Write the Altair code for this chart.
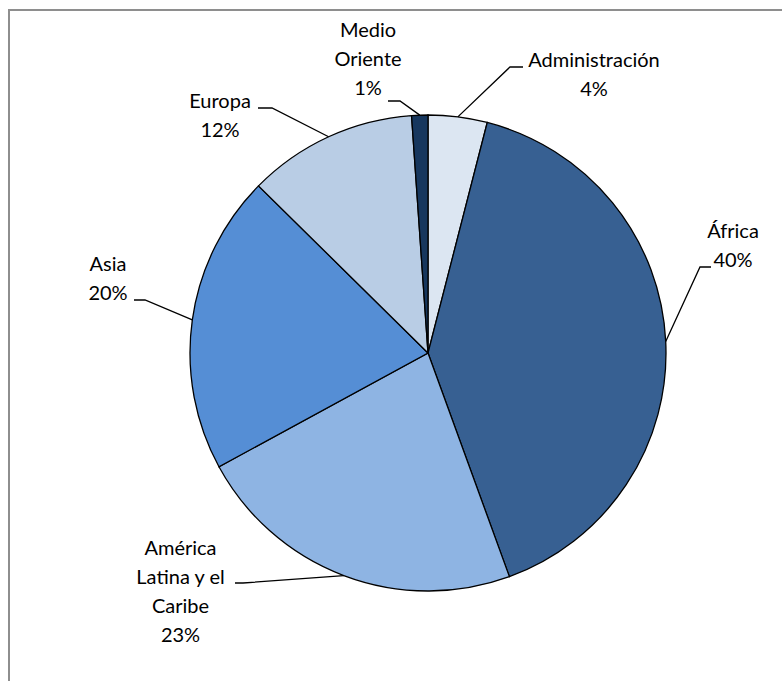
import math
import altair as alt
import pandas as pd

# ---- data ----
categories = ["Administración", "África", "América Latina y el Caribe", "Asia", "Europa", "Medio Oriente"]
values = [4.0, 40.4, 22.6, 20.3, 11.5, 1.1]
pct_labels = ["4%", "40%", "23%", "20%", "12%", "1%"]
label_text = ["Administración", "África", "América|Latina y el|Caribe", "Asia", "Europa", "Medio|Oriente"]
colors = ["#DCE6F2", "#376092", "#8EB4E3", "#558ED5", "#B9CDE5", "#17375E"]

# ---- layout (pixel positions of labels / leader elbows) ----
CX, CY, R = 428, 353, 238
label_x = [594, 733, 180.5, 108, 220, 368]
label_y = [67, 238, 555, 271, 108, 37]
elbow_x = [510, 700, 243, 145, 272, 400]
elbow_y = [67, 267, 583, 300, 108, 101]
end_x = [523, 711, 235, 134, 258, 388]

W, H = 782, 681
FONT = "Lato"

pie_df = pd.DataFrame({"cat": categories, "value": values, "idx": list(range(len(values)))})

# leader lines: start at slice mid-angle on pie edge
total = sum(values)
rows = []
cum = 0.0
for i, v in enumerate(values):
    mid = (cum + v / 2) / total * 2 * math.pi
    cum += v
    sx = CX + R * math.sin(mid)
    sy = CY - R * math.cos(mid)
    rows.append({"cat": categories[i], "o": 0, "px": sx, "py": sy})
    rows.append({"cat": categories[i], "o": 1, "px": elbow_x[i], "py": elbow_y[i]})
    rows.append({"cat": categories[i], "o": 2, "px": end_x[i], "py": elbow_y[i]})
lead_df = pd.DataFrame(rows)

lab_df = pd.DataFrame({
    "cat": categories,
    "label": [t + "|" + p for t, p in zip(label_text, pct_labels)],
    "lx": label_x,
    "ly": label_y,
})

pie = alt.Chart(pie_df).mark_arc(outerRadius=R, stroke="black", strokeWidth=1.3).encode(
    theta=alt.Theta("value:Q", stack=True),
    color=alt.Color("cat:N", scale=alt.Scale(domain=categories, range=colors), legend=None),
    order=alt.Order("idx:Q"),
    x=alt.value(CX),
    y=alt.value(CY),
)

leaders = alt.Chart(lead_df).mark_line(color="black", strokeWidth=1.3).encode(
    x=alt.X("px:Q", scale=None, axis=None),
    y=alt.Y("py:Q", scale=None, axis=None),
    detail="cat:N",
    order="o:Q",
)

labels = alt.Chart(lab_df).transform_calculate(
    lines="split(datum.label, '|')"
).mark_text(
    align="center", baseline="alphabetic", lineHeight=29, font=FONT, fontSize=20, color="black"
).encode(
    x=alt.X("lx:Q", scale=None, axis=None),
    y=alt.Y("ly:Q", scale=None, axis=None),
    text="lines:N",
)

frame_top = alt.Chart(pie_df).mark_rule(color="#8E8E8E", strokeWidth=2).encode(
    x=alt.value(8), x2=alt.value(W), y=alt.value(10)
)
frame_left = alt.Chart(pie_df).mark_rule(color="#8E8E8E", strokeWidth=2).encode(
    x=alt.value(9), y=alt.value(9), y2=alt.value(H)
)

chart = alt.layer(pie, leaders, labels, frame_top, frame_left).properties(
    width=W, height=H, padding=0, autosize=alt.AutoSizeParams(type="none"),
    background="white",
).configure_view(stroke=None)

chart.save("out.html", embed_options={"renderer": "svg", "actions": False})
